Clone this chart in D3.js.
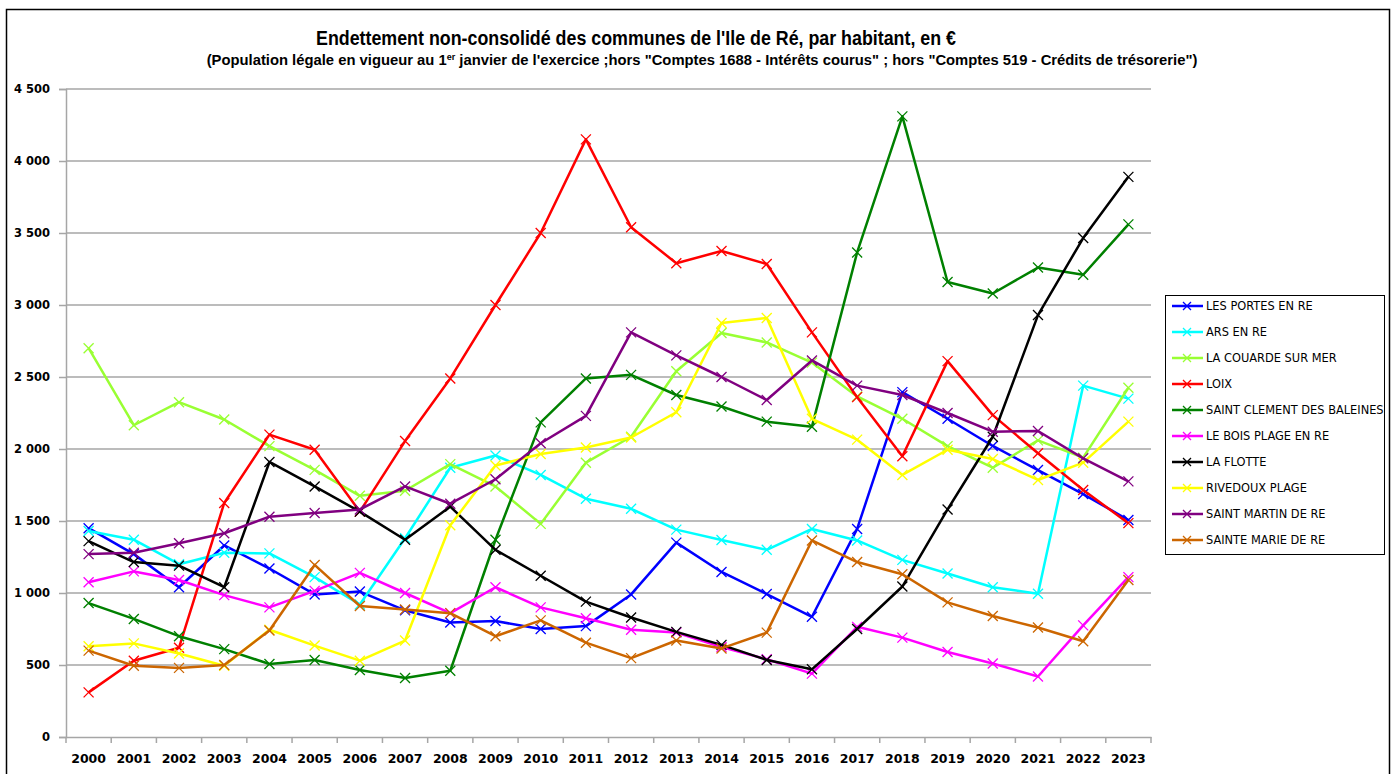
<!DOCTYPE html>
<html>
<head>
<meta charset="utf-8">
<script src="https://cdn.jsdelivr.net/npm/d3@7"></script>
<style>
  body { margin: 0; background: #fff; }
  svg { display: block; }
</style>
</head>
<body>
<script>
// Données
var annees = ["2000","2001","2002","2003","2004","2005","2006","2007","2008","2009","2010","2011",
              "2012","2013","2014","2015","2016","2017","2018","2019","2020","2021","2022","2023"];

var communes = ["LES PORTES EN RE","ARS EN RE","LA COUARDE SUR MER","LOIX","SAINT CLEMENT DES BALEINES",
                "LE BOIS PLAGE EN RE","LA FLOTTE","RIVEDOUX PLAGE","SAINT MARTIN DE RE","SAINTE MARIE DE RE"];

var couleurs = ["#0000ff","#00ffff","#99ff33","#ff0000","#008000","#ff00ff","#000000","#ffff00","#800080","#cc6600"];

var lesPortes = [1450,1270,1040,1330,1170,990,1010,880,795,805,750,770,990,1350,1146,993,835,1445,2395,2210,2021,1854,1687,1507];
var ars = [1430,1370,1200,1280,1275,1110,920,1380,1870,1955,1820,1655,1585,1440,1368,1300,1445,1365,1230,1135,1040,995,2440,2350];
var couarde = [2700,2165,2325,2205,2020,1855,1675,1710,1895,1740,1480,1905,2085,2540,2805,2740,2600,2365,2210,2020,1870,2060,1940,2425];
var loix = [310,530,620,1625,2100,1995,1565,2055,2490,3000,3500,4150,3540,3290,3375,3285,2810,2360,1950,2610,2235,1970,1715,1485];
var saintClement = [930,820,700,610,507,535,465,410,460,1370,2185,2490,2515,2375,2295,2190,2155,3365,4310,3160,3080,3260,3210,3560];
var boisPlage = [1075,1150,1090,985,900,1015,1140,1000,860,1040,900,825,745,725,625,540,440,765,690,590,510,420,775,1110];
var laFlotte = [1360,1215,1190,1040,1910,1740,1565,1370,1600,1300,1120,940,830,730,640,535,470,750,1045,1580,2085,2930,3465,3890];
var rivedoux = [630,650,580,495,745,635,530,670,1470,1885,1965,2010,2080,2255,2875,2910,2210,2065,1820,1995,1930,1785,1905,2190];
var saintMartin = [1270,1280,1345,1415,1530,1555,1580,1740,1620,1790,2040,2230,2810,2650,2500,2340,2615,2440,2375,2250,2120,2125,1935,1775];
var sainteMarie = [600,495,480,500,740,1195,910,885,860,700,810,655,548,670,615,725,1365,1215,1130,935,840,760,665,1090];

var graduations = [0,500,1000,1500,2000,2500,3000,3500,4000,4500];

var series = [lesPortes, ars, couarde, loix, saintClement, boisPlage, laFlotte, rivedoux, saintMartin, sainteMarie];

var W = 1394, H = 774;
var margin = {top: 89, left: 66, bottom: 37};
var plotW = 1085, plotH = 648;

var svg = d3.select("body").append("svg")
    .attr("width", W)
    .attr("height", H);

// Cadre extérieur
svg.append("rect")
    .attr("x", 6.5).attr("y", 9.5)
    .attr("width", 1383).attr("height", 770)
    .attr("fill", "none").attr("stroke", "#000").attr("stroke-width", 1.5);

// Titres
svg.append("text")
    .attr("x", 636).attr("y", 45)
    .attr("text-anchor", "middle")
    .attr("textLength", 640).attr("lengthAdjust", "spacingAndGlyphs")
    .style("font-family", "'Liberation Sans', Arial, sans-serif")
    .style("font-weight", "bold").style("font-size", "20px")
    .text("Endettement non-consolidé des communes de l'Ile de Ré, par habitant, en €");

var sousTitre = svg.append("text")
    .attr("x", 702).attr("y", 65)
    .attr("text-anchor", "middle")
    .style("font-family", "'Liberation Sans', Arial, sans-serif")
    .style("font-weight", "bold").style("font-size", "14.8px");
sousTitre.append("tspan").text("(Population légale en vigueur au 1");
sousTitre.append("tspan").attr("dy", -5).style("font-size", "9px").text("er");
sousTitre.append("tspan").attr("dy", 5)
    .text(" janvier de l'exercice ;hors \"Comptes 1688 - Intérêts courus\" ; hors \"Comptes 519 - Crédits de trésorerie\")");

var g = svg.append("g")
    .attr("transform", `translate(${margin.left},${margin.top})`);

var x = d3.scaleBand()
    .domain(annees)
    .range([0, plotW]);

var y = d3.scaleLinear()
    .domain([0, 4500])
    .range([plotH, 0]);

// Grille horizontale
g.append("g")
    .selectAll("line")
    .data(graduations.slice(1))
    .join("line")
    .attr("x1", 0).attr("x2", plotW)
    .attr("y1", d => y(d)).attr("y2", d => y(d))
    .attr("stroke", "#a6a6a6").attr("stroke-width", 1.5);

// Axe des y
var axeY = g.append("g")
    .call(d3.axisLeft(y).tickValues(graduations).tickSize(7).tickPadding(9)
        .tickFormat(d => d3.format(",")(d).replace(",", " ")));
axeY.select(".domain").attr("stroke", "#a6a6a6").attr("stroke-width", 1.5);
axeY.selectAll(".tick line").attr("stroke", "#a6a6a6").attr("stroke-width", 1.5);
axeY.selectAll("text")
    .style("font-family", "'DejaVu Sans', Verdana, sans-serif")
    .style("font-weight", "bold").style("font-size", "11.5px").attr("fill", "#000");

// Axe des x
var axeX = g.append("g")
    .attr("transform", `translate(0,${plotH})`)
    .call(d3.axisBottom(x).tickSize(0).tickPadding(17));
axeX.select(".domain").attr("stroke", "#a6a6a6").attr("stroke-width", 1.5);
axeX.selectAll("text")
    .style("font-family", "'DejaVu Sans', Verdana, sans-serif")
    .style("font-weight", "bold").style("font-size", "12.5px").attr("fill", "#000");
axeX.append("g")
    .selectAll("line")
    .data(annees.concat(["fin"]))
    .join("line")
    .attr("x1", (d, i) => i * x.step()).attr("x2", (d, i) => i * x.step())
    .attr("y1", 0).attr("y2", 6)
    .attr("stroke", "#a6a6a6").attr("stroke-width", 1.5);

// Courbes
var ligne = d3.line()
    .x((d, i) => x(annees[i]) + x.bandwidth() / 2)
    .y(d => y(d));

var m = 5;
series.forEach(function (serie, k) {
    var c = couleurs[k];
    g.append("path")
        .datum(serie)
        .attr("d", ligne)
        .attr("fill", "none")
        .attr("stroke", c)
        .attr("stroke-width", 2.5)
        .attr("stroke-linejoin", "round");

    g.append("g")
        .selectAll("path")
        .data(serie)
        .join("path")
        .attr("d", function (d, i) {
            var cx = x(annees[i]) + x.bandwidth() / 2, cy = y(d);
            return `M${cx - m},${cy - m}L${cx + m},${cy + m}M${cx - m},${cy + m}L${cx + m},${cy - m}`;
        })
        .attr("stroke", c).attr("stroke-width", 1.3).attr("fill", "none");
});

// Légende
var leg = svg.append("g").attr("transform", "translate(1165,295)");
leg.append("rect")
    .attr("x", 0.5).attr("y", 0.5)
    .attr("width", 219).attr("height", 259)
    .attr("fill", "#fff").attr("stroke", "#000").attr("stroke-width", 1);

var items = leg.selectAll("g.item")
    .data(communes)
    .join("g")
    .attr("class", "item")
    .attr("transform", (d, i) => `translate(0,${11 + i * 26})`);

items.append("line")
    .attr("x1", 7).attr("x2", 38)
    .attr("stroke", (d, i) => couleurs[i]).attr("stroke-width", 2.5);
items.append("path")
    .attr("d", `M${22 - 4},-4L${22 + 4},4M${22 - 4},4L${22 + 4},-4`)
    .attr("stroke", (d, i) => couleurs[i]).attr("stroke-width", 1.3);
items.append("text")
    .attr("x", 41).attr("y", 4)
    .style("font-family", "'DejaVu Sans', Verdana, sans-serif")
    .style("font-size", "11.4px")
    .text(d => d);
</script>
</body>
</html>
